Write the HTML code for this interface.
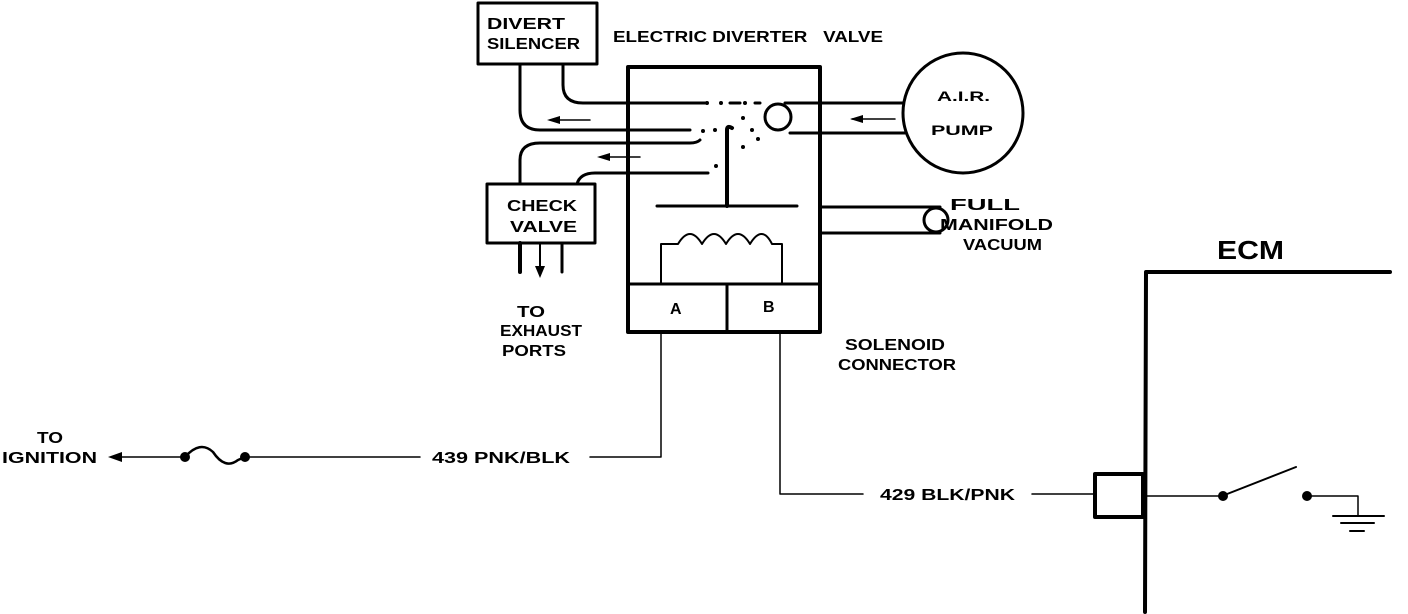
<!DOCTYPE html>
<html><head><meta charset="utf-8"><style>
html,body{margin:0;padding:0;background:#fff;}
svg{display:block}
text{font-family:"Liberation Sans",sans-serif;font-weight:bold;fill:#000}
</style></head><body>
<svg width="1408" height="614" viewBox="0 0 1408 614" xmlns="http://www.w3.org/2000/svg">
<g fill="none" stroke="#000" stroke-linecap="round" stroke-linejoin="round">
<rect x="478" y="3" width="119" height="61" stroke-width="3"/>
<rect x="628" y="67" width="192" height="265" stroke-width="4"/>
<line x1="628" y1="284" x2="820" y2="284" stroke-width="3"/>
<line x1="727" y1="284" x2="727" y2="332" stroke-width="3"/>
<rect x="487" y="184" width="108" height="59" stroke-width="3"/>
<line x1="520" y1="243" x2="520" y2="272" stroke-width="4"/>
<line x1="562" y1="243" x2="562" y2="272" stroke-width="3"/>
<line x1="540" y1="243" x2="540" y2="272" stroke-width="2"/>
<path d="M520 64 V110 Q520 130 540 130 H690" stroke-width="3"/>
<path d="M563 64 V85 Q563 103 583 103 H705" stroke-width="3"/>
<path d="M520 184 V160 Q520 143 540 143 H690 Q697 143 700 140" stroke-width="3"/>
<path d="M577 184 Q580 173 595 173 H708" stroke-width="3"/>
<line x1="730" y1="103" x2="740" y2="103" stroke-width="3"/>
<line x1="755" y1="103" x2="760" y2="103" stroke-width="3"/>
<line x1="550" y1="120" x2="590" y2="120" stroke-width="1.5"/>
<line x1="600" y1="157" x2="640" y2="157" stroke-width="1.5"/>
<line x1="852" y1="119" x2="895" y2="119" stroke-width="1.5"/>
<path d="M727 206 V130 Q727 125 732 128" stroke-width="4"/>
<line x1="657" y1="206" x2="797" y2="206" stroke-width="3"/>
<path d="M661 284 V244 H678 Q690 224 702 244 Q714 224 726 244 Q738 224 750 244 Q762 224 772 244 H782 V284" stroke-width="2"/>
<circle cx="963" cy="113" r="60" stroke-width="3"/>
<line x1="820" y1="103" x2="903" y2="103" stroke-width="3"/>
<line x1="790" y1="133" x2="905" y2="133" stroke-width="3"/>
<ellipse cx="778" cy="117" rx="13" ry="13" stroke-width="3"/>
<line x1="785" y1="103" x2="820" y2="103" stroke-width="3"/>
<line x1="820" y1="207" x2="940" y2="207" stroke-width="3"/>
<line x1="820" y1="233" x2="940" y2="233" stroke-width="3"/>
<circle cx="936" cy="220" r="12" stroke-width="3"/>
<polyline points="661,332 661,457 590,457" stroke-width="1.5"/>
<line x1="420" y1="457" x2="245" y2="457" stroke-width="1.5"/>
<line x1="185" y1="457" x2="115" y2="457" stroke-width="1.5"/>
<path d="M185 457 Q200 440 213 452 Q225 470 238 460 L245 457" stroke-width="2.5"/>
<polyline points="780,332 780,494 863,494" stroke-width="1.5"/>
<line x1="1032" y1="494" x2="1095" y2="494" stroke-width="1.5"/>
<rect x="1095" y="474" width="48" height="43" stroke-width="4"/>
<polyline points="1145,612 1146,272 1390,272" stroke-width="4"/>
<line x1="1146" y1="496" x2="1222" y2="496" stroke-width="1.5"/>
<line x1="1222" y1="496" x2="1296" y2="467" stroke-width="2"/>
<polyline points="1307,496 1358,496 1358,515" stroke-width="1.5"/>
<line x1="1333" y1="516" x2="1384" y2="516" stroke-width="2"/>
<line x1="1341" y1="523" x2="1374" y2="523" stroke-width="2"/>
<line x1="1350" y1="531" x2="1364" y2="531" stroke-width="2"/>
</g>
<g fill="#000">
<circle cx="185" cy="457" r="5"/><circle cx="245" cy="457" r="5"/>
<circle cx="1223" cy="496" r="5"/><circle cx="1307" cy="496" r="5"/>
<polygon points="108,457 122,452 122,462"/>
<polygon points="547,120 560,116 560,124"/>
<polygon points="597,157 610,153 610,161"/>
<polygon points="850,119 863,115 863,123"/>
<polygon points="540,278 535,266 545,266"/>
<circle cx="707" cy="103" r="2"/><circle cx="721" cy="103" r="2"/><circle cx="745" cy="103" r="2"/>
<circle cx="743" cy="118" r="2"/><circle cx="752" cy="130" r="2"/><circle cx="758" cy="139" r="2"/>
<circle cx="743" cy="147" r="2"/><circle cx="716" cy="166" r="2"/><circle cx="703" cy="131" r="2"/><circle cx="715" cy="130" r="2"/>
</g>
<g font-size="16" lengthAdjust="spacingAndGlyphs">
<text x="487" y="29" textLength="78" lengthAdjust="spacingAndGlyphs">DIVERT</text>
<text x="487" y="49" textLength="93" lengthAdjust="spacingAndGlyphs">SILENCER</text>
<text x="613" y="42" textLength="270" lengthAdjust="spacingAndGlyphs">ELECTRIC DIVERTER&#160;&#160; VALVE</text>
<text x="507" y="211" font-weight="normal" textLength="70" lengthAdjust="spacingAndGlyphs">CHECK</text>
<text x="510" y="232" font-weight="normal" textLength="67" lengthAdjust="spacingAndGlyphs">VALVE</text>
<text x="517" y="317" textLength="28" lengthAdjust="spacingAndGlyphs">TO</text>
<text x="500" y="336" textLength="82" lengthAdjust="spacingAndGlyphs">EXHAUST</text>
<text x="502" y="356" textLength="64" lengthAdjust="spacingAndGlyphs">PORTS</text>
<text x="670" y="314">A</text>
<text x="763" y="312">B</text>
<text x="937" y="101" font-size="14" textLength="53" lengthAdjust="spacingAndGlyphs">A.I.R.</text>
<text x="931" y="135" font-size="14" textLength="62" lengthAdjust="spacingAndGlyphs">PUMP</text>
<text x="950" y="210" textLength="70" lengthAdjust="spacingAndGlyphs">FULL</text>
<text x="940" y="230" textLength="113" lengthAdjust="spacingAndGlyphs">MANIFOLD</text>
<text x="963" y="250" textLength="79" lengthAdjust="spacingAndGlyphs">VACUUM</text>
<text x="845" y="350" textLength="100" lengthAdjust="spacingAndGlyphs">SOLENOID</text>
<text x="838" y="370" textLength="118" lengthAdjust="spacingAndGlyphs">CONNECTOR</text>
<text x="37" y="443" textLength="26" lengthAdjust="spacingAndGlyphs">TO</text>
<text x="2" y="463" textLength="95" lengthAdjust="spacingAndGlyphs">IGNITION</text>
<text x="432" y="463" textLength="138" lengthAdjust="spacingAndGlyphs">439 PNK/BLK</text>
<text x="880" y="500" textLength="135" lengthAdjust="spacingAndGlyphs">429 BLK/PNK</text>
<text x="1217" y="259" font-size="26" font-weight="normal" textLength="67" lengthAdjust="spacingAndGlyphs">ECM</text>
</g>
</svg>
</body></html>
